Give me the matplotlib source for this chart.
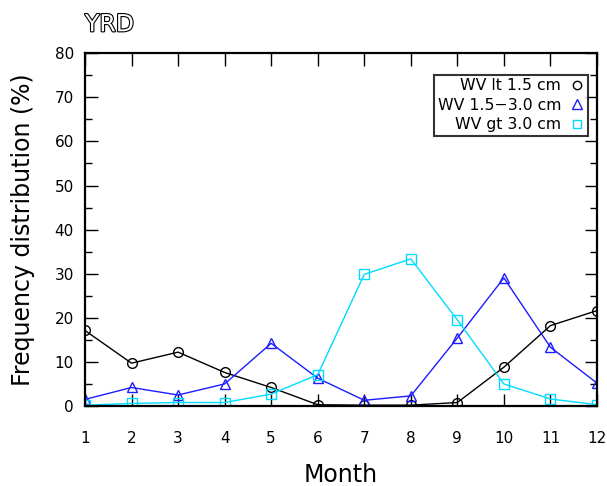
import numpy as np
import matplotlib
matplotlib.use("Agg")
import matplotlib.pyplot as plt
import matplotlib.patheffects as pe
from matplotlib.lines import Line2D

months = np.arange(1, 13)
wv_lt_15 = [17.2, 9.8, 12.3, 7.7, 4.3, 0.4, 0.3, 0.3, 0.9, 8.9, 18.3, 21.7]
wv_15_30 = [1.6, 4.3, 2.6, 5.1, 14.3, 6.4, 1.4, 2.4, 15.5, 29.1, 13.4, 5.3]
wv_gt_30 = [0.3, 0.7, 0.9, 0.9, 2.8, 7.2, 29.9, 33.4, 19.6, 5.1, 1.7, 0.4]
labels = ['WV lt 1.5 cm', 'WV 1.5\u22123.0 cm', 'WV gt 3.0 cm']
yticks = [0, 10, 20, 30, 40, 50, 60, 70, 80]

blue = '#1c1cff'
cyan = '#00dcff'

fig = plt.figure(figsize=(6.07, 4.86), dpi=100)
ax = fig.add_axes([0.140, 0.1636, 0.8435, 0.7274])

ax.plot(months, wv_lt_15, color='black', lw=1, marker='o', ms=7,
        mfc='none', mec='black', mew=1)
ax.plot(months, wv_15_30, color=blue, lw=1, marker='^', ms=7.5,
        mfc='none', mec=blue, mew=1)
ax.plot(months, wv_gt_30, color=cyan, lw=1, marker='s', ms=7,
        mfc='none', mec=cyan, mew=1)

ax.set_xlim(1, 12)
ax.set_ylim(0, 80)
ax.set_xticks(months)
ax.set_yticks(yticks)
ax.set_yticks(np.arange(5, 80, 10), minor=True)
ax.tick_params(axis='both', which='major', direction='in', length=9,
               width=1, top=True, right=True, labelsize=11, color='black')
ax.tick_params(axis='y', which='minor', direction='in', length=5,
               width=1, right=True)
ax.tick_params(axis='x', pad=18)
ax.tick_params(axis='y', pad=8)
for sp in ax.spines.values():
    sp.set_linewidth(1.6)

ax.set_xlabel('Month', fontsize=17, labelpad=12)
ax.set_ylabel('Frequency distribution (%)', fontsize=17, labelpad=14)

fig.text(0.140, 0.950, 'YRD', fontsize=17, color='white', va='center',
         path_effects=[pe.Stroke(linewidth=1.6, foreground='black'), pe.Normal()])

handles = [
    Line2D([], [], ls='none', marker='o', ms=6, mfc='none', mec='black'),
    Line2D([], [], ls='none', marker='^', ms=6.5, mfc='none', mec=blue),
    Line2D([], [], ls='none', marker='s', ms=6, mfc='none', mec=cyan),
]
leg = ax.legend(handles, labels, loc='upper right', bbox_to_anchor=(0.982, 0.938),
                markerfirst=False, fontsize=11.3, frameon=True, fancybox=False,
                edgecolor='black', borderpad=0.2, handlelength=1.0,
                handletextpad=0.5, labelspacing=0.3, borderaxespad=0)
leg.get_frame().set_linewidth(1.5)
for t in leg.get_texts():
    t.set_ha('right')

fig.savefig('out.png', dpi=100)
